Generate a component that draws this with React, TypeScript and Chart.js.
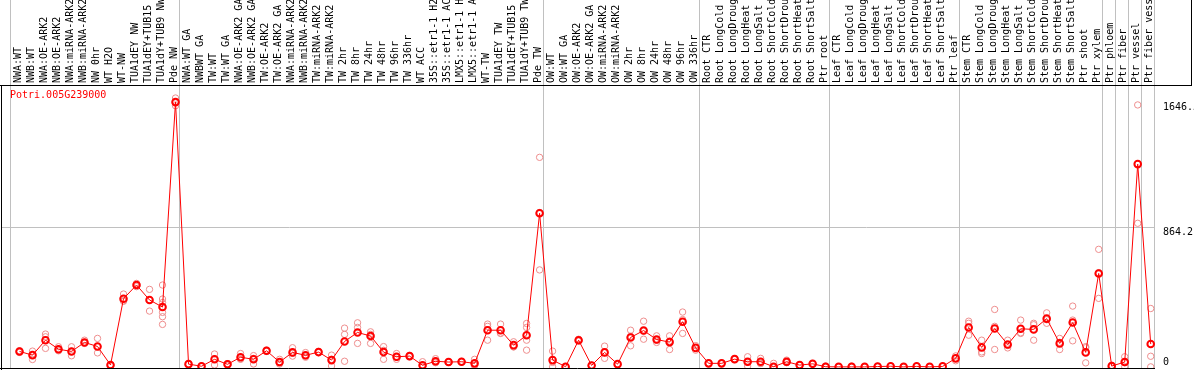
import { useEffect, useRef } from 'react';
import { Chart, registerables } from 'chart.js';

Chart.register(...registerables);

const geneId = 'Potri.005G239000';

const categories = [
  'NWA:WT', 'NWB:WT', 'NWA:OE-ARK2', 'NWB:OE-ARK2', 'NWA:miRNA-ARK2', 'NWB:miRNA-ARK2',
  'NW 0hr', 'WT H2O', 'WT-NW', 'TUA1dEY NW', 'TUA1dEY+TUB15 NW', 'TUA1dY+TUB9 NW', 'Pde NW',
  'NWA:WT GA', 'NWBWT GA', 'TW:WT', 'TW:WT GA', 'NWA:OE-ARK2 GA', 'NWB:OE-ARK2 GA',
  'TW:OE-ARK2', 'TW:OE-ARK2 GA', 'NWA:miRNA-ARK2 GA', 'NWB:miRNA-ARK2 GA', 'TW:miRNA-ARK2',
  'TW:miRNA-ARK2 GA', 'TW 2hr', 'TW 8hr', 'TW 24hr', 'TW 48hr', 'TW 96hr', 'TW 336hr',
  'WT ACC', '35S::etr1-1 H2O', '35S::etr1-1 ACC', 'LMX5::etr1-1 H2O', 'LMX5::etr1-1 ACC',
  'WT-TW', 'TUA1dEY TW', 'TUA1dEY+TUB15 TW', 'TUA1dY+TUB9 TW', 'Pde TW',
  'OW:WT', 'OW:WT GA', 'OW:OE-ARK2', 'OW:OE-ARK2 GA', 'OW:miRNA-ARK2', 'OW:miRNA-ARK2 GA',
  'OW 2hr', 'OW 8hr', 'OW 24hr', 'OW 48hr', 'OW 96hr', 'OW 336hr',
  'Root CTR', 'Root LongCold', 'Root LongDrought', 'Root LongHeat', 'Root LongSalt',
  'Root ShortCold', 'Root ShortDrought', 'Root ShortHeat', 'Root ShortSalt', 'Ptr root',
  'Leaf CTR', 'Leaf LongCold', 'Leaf LongDrought', 'Leaf LongHeat', 'Leaf LongSalt',
  'Leaf ShortCold', 'Leaf ShortDrought', 'Leaf ShortHeat', 'Leaf ShortSalt', 'Ptr leaf',
  'Stem CTR', 'Stem LongCold', 'Stem LongDrought', 'Stem LongHeat', 'Stem LongSalt',
  'Stem ShortCold', 'Stem ShortDrought', 'Stem ShortHeat', 'Stem ShortSalt', 'Ptr shoot',
  'Ptr xylem', 'Ptr phloem', 'Ptr fiber', 'Ptr vessel', 'Ptr fiber vessel',
];

// number of categories in each separated group (left to right)
const groupSizes = [13, 28, 12, 10, 10, 11, 1, 1, 1, 1];

const meanValues = [
  96, 73, 166, 110, 96, 152, 127, 12, 424, 509, 416, 372, 1646.5,
  17, 4, 47, 16, 60, 47, 100, 30, 90, 72, 92, 42, 158, 214, 192, 92, 63, 67,
  10, 35, 30, 32, 22, 228, 228, 135, 197, 955,
  42, 1, 166, 9, 90, 17, 183, 226, 170, 154, 281, 118,
  22, 22, 48, 32, 32, 1, 32, 11, 19, 1,
  0, 0, 0, 2, 4, 0, 3, 0, 3, 53,
  245, 121, 239, 139, 237, 233, 300, 146, 276, 90, 581,
  5, 30, 1261, 142,
];

const replicateValues = [
  [90, 100, 98], [98, 46, 75], [204, 187, 115], [105, 100, 125], [125, 69, 96],
  [166, 146, 152], [177, 127, 87], [10, 14, 12], [453, 411, 408], [519, 509, 499],
  [482, 416, 347], [509, 422, 400, 339, 312, 264], [1672, 1624, 1644],
  [15, 19, 17], [2, 6, 4], [80, 12, 49], [10, 20, 18], [83, 47, 50], [70, 18, 53],
  [100, 96, 104], [47, 18, 25], [119, 67, 84], [89, 60, 67], [92, 88, 96], [73, 6, 47],
  [241, 202, 35], [274, 245, 146], [218, 202, 146], [126, 47, 103], [83, 47, 59],
  [67, 63, 71], [32, 0, 0], [51, 28, 26], [30, 28, 32], [32, 30, 34], [47, 10, 9],
  [266, 166, 252], [266, 208, 210], [156, 125, 124], [270, 245, 166, 104], [1303, 960, 603],
  [98, 0, 28], [0, 2, 1], [166, 160, 172], [9, 8, 10], [129, 53, 88], [17, 15, 19],
  [228, 131, 190], [284, 172, 222], [193, 165, 152], [193, 108, 161], [341, 208, 294],
  [104, 132, 118],
  [22, 20, 24], [22, 20, 24], [48, 45, 51], [63, 5, 28], [53, 22, 21], [22, 0, 0],
  [42, 28, 26], [11, 9, 13], [19, 17, 21], [5, 0, 0],
  [0, 0, 0], [5, 0, 0], [0, 0, 0], [2, 2, 2], [4, 4, 4], [0, 0, 0], [3, 3, 3],
  [0, 0, 0], [3, 3, 3], [53, 38, 68],
  [284, 271, 197], [166, 93, 83], [357, 108, 252], [166, 118, 133], [291, 208, 212],
  [271, 166, 262], [336, 271, 293], [177, 108, 153], [378, 291, 162], [126, 25, 119],
  [731, 426, 586],
  [0, 5, 10], [63, 1, 26], [1629, 893, 1261], [363, 66, 0],
];

const yTickValues = [0, 864.2, 1646.5];
const yTickLabels = ['0', '864.2', '1646.5'];

const FONT = '"DejaVu Sans Mono", monospace';

export default function App() {
  const canvasRef = useRef<HTMLCanvasElement | null>(null);

  useEffect(() => {
    const canvas = canvasRef.current;
    if (!canvas) return;

    // group boundaries (in category-index units), drawn as grey separator lines
    const separators: number[] = [];
    let start = 0;
    separators.push(start - 0.69);
    groupSizes.forEach((n) => {
      start += n;
      separators.push(start - 0.69);
    });

    const meanPoints = meanValues.map((v, i) => ({ x: i, y: v }));
    const repPoints: { x: number; y: number }[] = [];
    replicateValues.forEach((reps, i) => reps.forEach((v) => repPoints.push({ x: i, y: v })));

    const isSep = (v: number) => separators.some((s) => Math.abs(s - v) < 1e-6);

    const framePlugin = {
      id: 'frame',
      afterDraw(chart: any) {
        const { ctx, chartArea: a } = chart;
        ctx.save();
        ctx.strokeStyle = '#000000';
        ctx.lineWidth = 1;
        ctx.beginPath();
        ctx.moveTo(0, a.top + 0.5);
        ctx.lineTo(1192, a.top + 0.5);
        ctx.moveTo(1191.5, 0);
        ctx.lineTo(1191.5, a.top + 0.5);
        ctx.moveTo(a.left + 0.5, a.top);
        ctx.lineTo(a.left + 0.5, 370);
        ctx.moveTo(0, a.bottom + 0.5);
        ctx.lineTo(a.right, a.bottom + 0.5);
        ctx.stroke();
        ctx.fillStyle = '#ff0000';
        ctx.font = '10px ' + FONT;
        ctx.textBaseline = 'middle';
        ctx.textAlign = 'left';
        ctx.fillText(geneId, a.left + 9, a.top + 10);
        ctx.restore();
      },
    };

    const chart = new Chart(canvas, {
      type: 'line',
      data: {
        datasets: [
          {
            type: 'line',
            label: 'mean',
            data: meanPoints,
            borderColor: '#ff0000',
            borderWidth: 1,
            pointRadius: 3.3,
            pointBorderWidth: 2,
            pointBorderColor: '#ff0000',
            pointBackgroundColor: 'rgba(0,0,0,0)',
            tension: 0,
            clip: 0,
            order: 0,
          } as any,
          {
            type: 'scatter',
            label: 'replicates',
            data: repPoints,
            showLine: false,
            borderColor: '#ee8e8e',
            backgroundColor: 'rgba(0,0,0,0)',
            pointRadius: 3.2,
            pointBorderWidth: 1,
            clip: 0,
            order: 1,
          } as any,
        ],
      },
      options: {
        animation: false,
        responsive: false,
        maintainAspectRatio: false,
        events: [],
        layout: { autoPadding: false, padding: { left: 1, right: 0, top: 0, bottom: 2 } },
        plugins: {
          legend: { display: false },
          tooltip: { enabled: false },
          title: { display: false },
        },
        scales: {
          x: {
            type: 'linear',
            position: 'top',
            min: -1.423,
            max: 87.33,
            border: { display: false },
            grid: {
              drawOnChartArea: true,
              drawTicks: true,
              tickLength: 85,
              lineWidth: 1,
              color: (ctx: any) =>
                ctx.tick && isSep(ctx.tick.value) ? '#c0c0c0' : 'rgba(0,0,0,0)',
            },
            afterBuildTicks: (scale: any) => {
              const t = categories.map((_, i) => ({ value: i }));
              separators.forEach((s) => t.push({ value: s }));
              t.sort((p, q) => p.value - q.value);
              scale.ticks = t;
            },
            afterFit: (scale: any) => {
              scale.height = 85;
              scale.paddingLeft = 0;
              scale.paddingRight = 0;
            },
            ticks: {
              autoSkip: false,
              minRotation: 90,
              maxRotation: 90,
              padding: -83,
              labelOffset: 11,
              color: '#000000',
              font: { family: FONT, size: 10 },
              callback: (value: any) =>
                Number.isInteger(value) && categories[value] !== undefined ? categories[value] : '',
            },
          },
          y: {
            type: 'linear',
            position: 'right',
            min: -7,
            max: 1753,
            border: { display: false },
            grid: {
              drawTicks: false,
              lineWidth: 1,
              color: (ctx: any) =>
                ctx.tick && Math.abs(ctx.tick.value - yTickValues[1]) < 1e-6
                  ? '#c0c0c0'
                  : 'rgba(0,0,0,0)',
            },
            afterBuildTicks: (scale: any) => {
              scale.ticks = yTickValues.map((v) => ({ value: v }));
            },
            afterFit: (scale: any) => {
              scale.width = 39;
              scale.paddingTop = 0;
              scale.paddingBottom = 0;
            },
            ticks: {
              padding: 8,
              color: '#000000',
              font: { family: FONT, size: 10, lineHeight: 0.96 },
              callback: (value: any) => {
                const k = yTickValues.findIndex((v) => Math.abs(v - value) < 1e-6);
                const label = k >= 0 ? yTickLabels[k] : '';
                return value === 0 ? [label, ''] : ['', label];
              },
            },
          },
        },
      },
      plugins: [framePlugin],
    } as any);

    return () => chart.destroy();
  }, []);

  return (
    <div
      style={{
        position: 'fixed',
        left: 0,
        top: 0,
        width: 1194,
        height: 370,
        background: '#ffffff',
        overflow: 'hidden',
      }}
    >
      <canvas ref={canvasRef} width={1194} height={370} style={{ display: 'block' }} />
    </div>
  );
}
